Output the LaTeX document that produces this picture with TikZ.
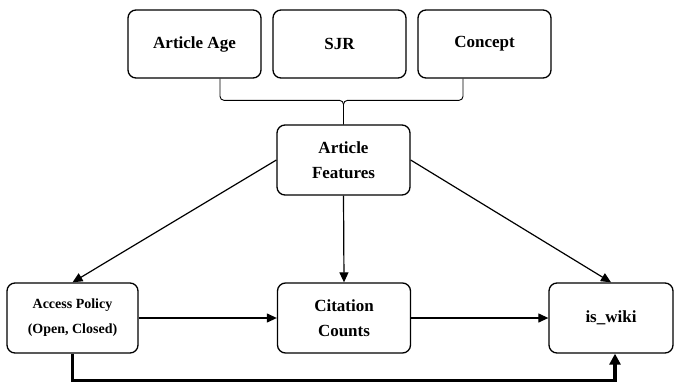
\documentclass[tikz,border=0pt]{standalone}
\usepackage{fontspec}
\setmainfont{Liberation Serif}
\usetikzlibrary{positioning,arrows.meta}

\begin{document}
\begin{tikzpicture}[x=1pt,y=1pt,
  box/.style={draw,line width=1.3pt,rounded corners=8pt,align=center,inner sep=0pt,
    minimum width=133pt,minimum height=70pt,font=\bfseries\fontsize{17}{25}\selectfont},
  small/.style={font=\bfseries\fontsize{14}{25}\selectfont},
  link/.style={line width=1.2pt,-{Triangle[length=10pt,width=9pt]}},
  bold/.style={line width=3.5pt,-{Triangle[length=11pt,width=11pt]}},
  brace/.style={line width=0.9pt,rounded corners=4pt}]
  \useasboundingbox (0,0) rectangle (674,384);
  \node[box,minimum height=68pt] (age) at (194.5,340){Article Age};
  \node[box,minimum height=68pt] (sjr) at (339.5,340){SJR};
  \node[box,minimum height=68pt] (concept) at (484.5,340){Concept};
  \node[box] (feat) at (343.5,224){Article\\Features};
  \node[box,small,minimum width=131pt] (access) at (72.5,66){Access Policy\\(Open, Closed)};
  \node[box] (cites) at (344,66){Citation\\Counts};
  \node[box,minimum width=124pt] (wiki) at (611,66){is\_wiki};
  \draw[brace] ([xshift=25.5pt]age.south) |- ([yshift=24pt]feat.north) -- (feat.north);
  \draw[brace] ([xshift=-21.5pt]concept.south) |- ([yshift=24pt]feat.north) -- (feat.north);
  \draw[link] (feat.west) -- (access.north);
  \draw[link] (feat.south) -- (cites.north);
  \draw[link] (feat.east) -- (wiki.north);
  \draw[link] (access.east) -- (cites.west);
  \draw[link] (cites.east) -- (wiki.west);
  \draw[bold] (access.south) -- ++(0,-27) -| ([xshift=4pt]wiki.south);
\end{tikzpicture}
\end{document}
